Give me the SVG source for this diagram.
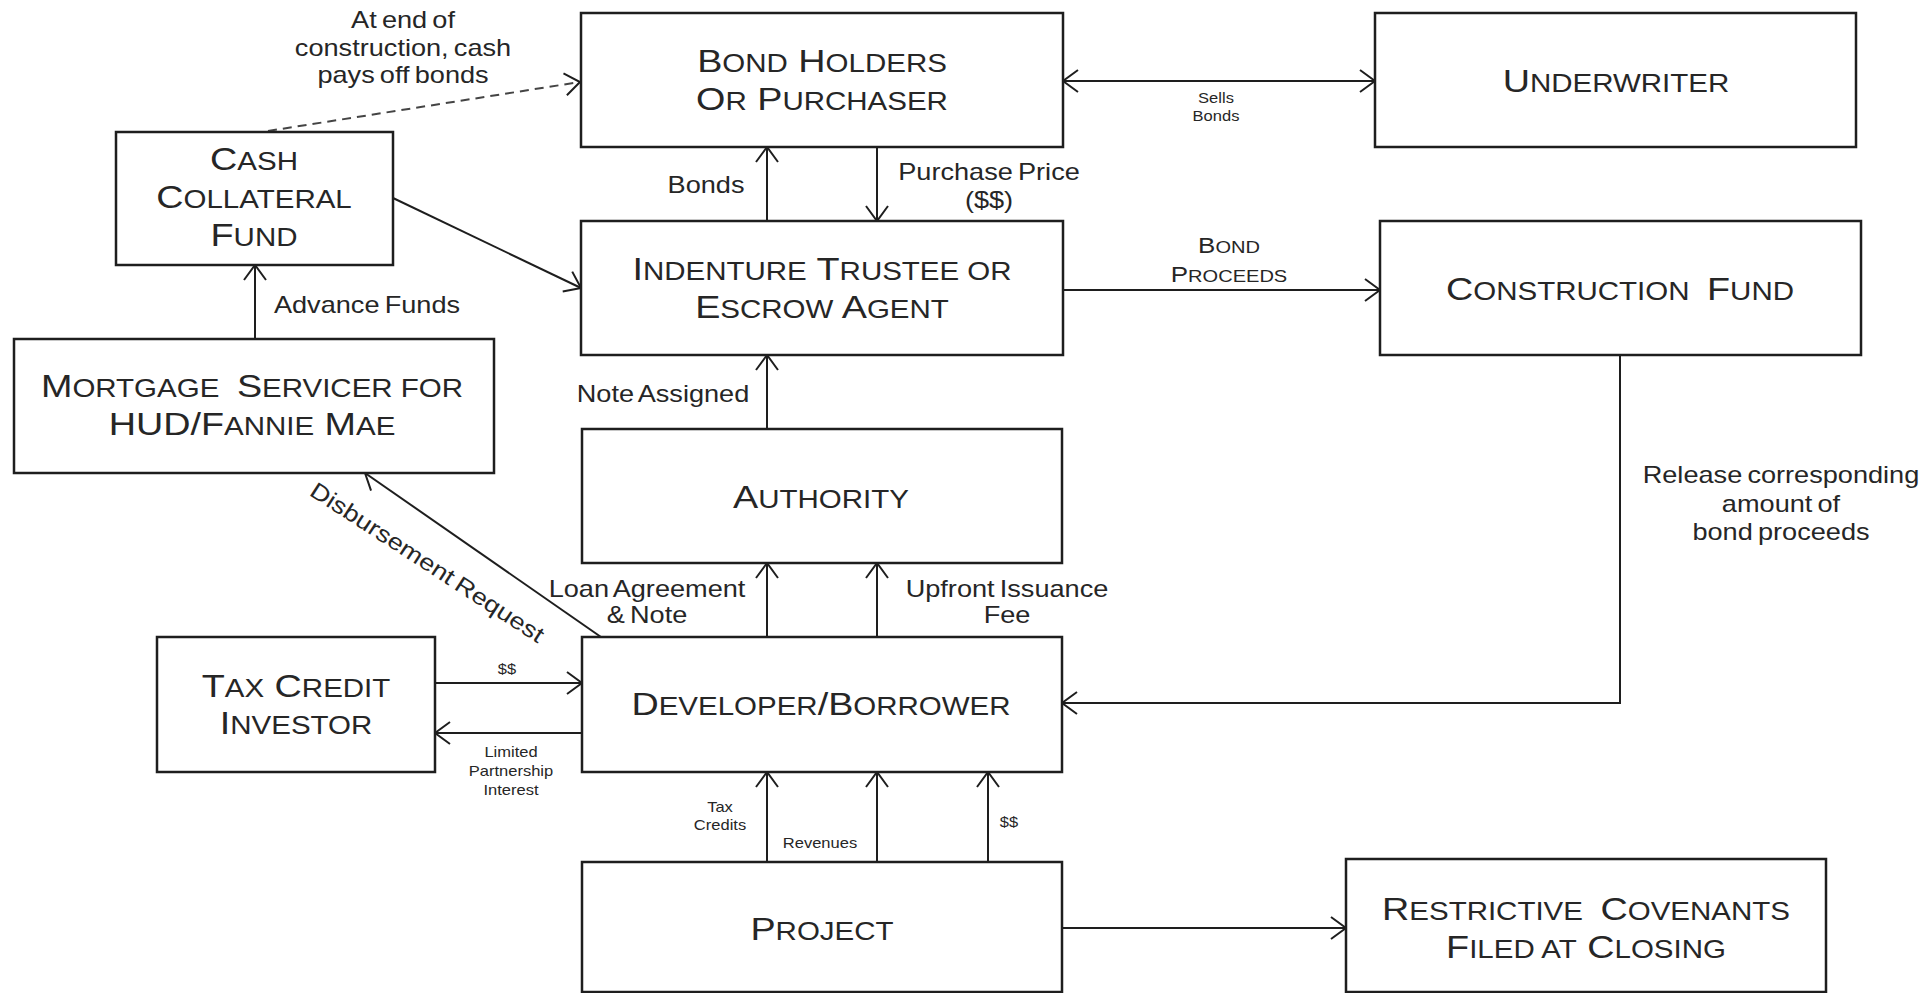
<svg xmlns="http://www.w3.org/2000/svg" width="1931" height="993" viewBox="0 0 1931 993">
<style>
.b{fill:#fff;stroke:#1e1e1e;stroke-width:2.5}
.t{font-family:"Liberation Sans",Arial,sans-serif;fill:#262626;text-anchor:middle}
.n{font-size:32px}
.s{font-size:25px}
.l{font-size:23px;word-spacing:-2px}
.x{font-size:14px}
.bp{font-size:22px}
.bs{font-size:17px}
.c{fill:none;stroke:#1e1e1e;stroke-width:2}
.d{stroke-dasharray:9 6;stroke:#444}
</style>
<defs>
<marker id="a" viewBox="-17 -13 19 26" markerWidth="19" markerHeight="26" refX="0" refY="0" orient="auto" markerUnits="userSpaceOnUse">
<path d="M-15,-11 L0,0 L-15,11" fill="none" stroke="#1e1e1e" stroke-width="2"/>
</marker>
<marker id="a2" viewBox="-17 -13 19 26" markerWidth="19" markerHeight="26" refX="0" refY="0" orient="auto-start-reverse" markerUnits="userSpaceOnUse">
<path d="M-15,-11 L0,0 L-15,11" fill="none" stroke="#1e1e1e" stroke-width="2"/>
</marker>
</defs>
<rect width="1931" height="993" fill="#fff"/>

<g id="connectors">
<line class="c d" x1="268" y1="131" x2="580" y2="82" marker-end="url(#a)"/>
<line class="c" x1="1063" y1="81" x2="1375" y2="81" marker-start="url(#a2)" marker-end="url(#a2)"/>
<line class="c" x1="767" y1="221" x2="767" y2="147" marker-end="url(#a)"/>
<line class="c" x1="877" y1="147" x2="877" y2="221" marker-end="url(#a)"/>
<line class="c" x1="393" y1="198" x2="581" y2="288" marker-end="url(#a)"/>
<line class="c" x1="255" y1="339" x2="255" y2="265" marker-end="url(#a)"/>
<line class="c" x1="1063" y1="290" x2="1380" y2="290" marker-end="url(#a)"/>
<line class="c" x1="767" y1="429" x2="767" y2="355" marker-end="url(#a)"/>
<polyline class="c" points="1620,355 1620,703 1062,703" marker-end="url(#a)"/>
<line class="c" x1="601" y1="637" x2="365" y2="473" marker-end="url(#a)"/>
<line class="c" x1="767" y1="637" x2="767" y2="563" marker-end="url(#a)"/>
<line class="c" x1="877" y1="637" x2="877" y2="563" marker-end="url(#a)"/>
<line class="c" x1="435" y1="683" x2="582" y2="683" marker-end="url(#a)"/>
<line class="c" x1="582" y1="733" x2="435" y2="733" marker-end="url(#a)"/>
<line class="c" x1="767" y1="862" x2="767" y2="772" marker-end="url(#a)"/>
<line class="c" x1="877" y1="862" x2="877" y2="772" marker-end="url(#a)"/>
<line class="c" x1="988" y1="862" x2="988" y2="772" marker-end="url(#a)"/>
<line class="c" x1="1062" y1="928" x2="1346" y2="928" marker-end="url(#a)"/>

<text class="t l" transform="matrix(1.18 0 0 1 403 28)"><tspan x="0" y="0">At end of</tspan><tspan x="0" y="28">construction, cash</tspan><tspan x="0" y="55">pays off bonds</tspan></text>
<text class="t x" transform="matrix(1.18 0 0 1 1216 103)"><tspan x="0" y="0">Sells</tspan><tspan x="0" y="18">Bonds</tspan></text>
<text class="t l" transform="matrix(1.18 0 0 1 706 193)">Bonds</text>
<text class="t l" transform="matrix(1.18 0 0 1 989 180)"><tspan x="0" y="0">Purchase Price</tspan><tspan x="0" y="28">($$)</tspan></text>
<text class="t bp" transform="matrix(1.18 0 0 1 1229 253)"><tspan x="0" y="0">B<tspan class="bs">OND</tspan></tspan><tspan x="0" y="29">P<tspan class="bs">ROCEEDS</tspan></tspan></text>
<text class="t l" transform="matrix(1.18 0 0 1 367 313)">Advance Funds</text>
<text class="t l" transform="matrix(1.18 0 0 1 663 402)">Note Assigned</text>
<text class="t l" transform="matrix(1.18 0 0 1 1781 483)"><tspan x="0" y="0">Release corresponding</tspan><tspan x="0" y="29">amount of</tspan><tspan x="0" y="57">bond proceeds</tspan></text>
<text class="t l" transform="translate(423 569) rotate(33) scale(1.18 1)">Disbursement Request</text>
<text class="t l" transform="matrix(1.18 0 0 1 647 597)"><tspan x="0" y="0">Loan Agreement</tspan><tspan x="0" y="26">&amp; Note</tspan></text>
<text class="t l" transform="matrix(1.18 0 0 1 1007 597)"><tspan x="0" y="0">Upfront Issuance</tspan><tspan x="0" y="26">Fee</tspan></text>
<text class="t x" transform="matrix(1.18 0 0 1 507 674)">$$</text>
<text class="t x" transform="matrix(1.18 0 0 1 511 757)"><tspan x="0" y="0">Limited</tspan><tspan x="0" y="19">Partnership</tspan><tspan x="0" y="38">Interest</tspan></text>
<text class="t x" transform="matrix(1.18 0 0 1 720 812)"><tspan x="0" y="0">Tax</tspan><tspan x="0" y="18">Credits</tspan></text>
<text class="t x" transform="matrix(1.18 0 0 1 820 848)">Revenues</text>
<text class="t x" transform="matrix(1.18 0 0 1 1009 827)">$$</text>
</g>

<g id="bond-holders">
<rect class="b" x="581" y="13" width="482" height="134"/>
<text class="t n" transform="matrix(1.18 0 0 1 822 72)"><tspan x="0" y="0">B<tspan class="s">OND</tspan> H<tspan class="s">OLDERS</tspan></tspan><tspan x="0" y="38">O<tspan class="s">R</tspan> P<tspan class="s">URCHASER</tspan></tspan></text>
</g>

<g id="underwriter">
<rect class="b" x="1375" y="13" width="481" height="134"/>
<text class="t n" transform="matrix(1.18 0 0 1 1616 92)">U<tspan class="s">NDERWRITER</tspan></text>
</g>

<g id="cash-collateral-fund">
<rect class="b" x="116" y="132" width="277" height="133"/>
<text class="t n" transform="matrix(1.18 0 0 1 254 170)"><tspan x="0" y="0">C<tspan class="s">ASH</tspan></tspan><tspan x="0" y="38">C<tspan class="s">OLLATERAL</tspan></tspan><tspan x="0" y="76">F<tspan class="s">UND</tspan></tspan></text>
</g>

<g id="indenture-trustee">
<rect class="b" x="581" y="221" width="482" height="134"/>
<text class="t n" transform="matrix(1.18 0 0 1 822 280)"><tspan x="0" y="0">I<tspan class="s">NDENTURE</tspan> T<tspan class="s">RUSTEE OR</tspan></tspan><tspan x="0" y="38">E<tspan class="s">SCROW</tspan> A<tspan class="s">GENT</tspan></tspan></text>
</g>

<g id="construction-fund">
<rect class="b" x="1380" y="221" width="481" height="134"/>
<text class="t n" transform="matrix(1.18 0 0 1 1620 300)">C<tspan class="s">ONSTRUCTION</tspan> <tspan dx="6">F</tspan><tspan class="s">UND</tspan></text>
</g>

<g id="mortgage-servicer">
<rect class="b" x="14" y="339" width="480" height="134"/>
<text class="t n" transform="matrix(1.18 0 0 1 252 397)"><tspan x="0" y="0">M<tspan class="s">ORTGAGE</tspan> <tspan dx="6">S</tspan><tspan class="s">ERVICER FOR</tspan></tspan><tspan x="0" y="38">HUD/F<tspan class="s">ANNIE</tspan> M<tspan class="s">AE</tspan></tspan></text>
</g>

<g id="authority">
<rect class="b" x="582" y="429" width="480" height="134"/>
<text class="t n" transform="matrix(1.18 0 0 1 821 508)">A<tspan class="s">UTHORITY</tspan></text>
</g>

<g id="tax-credit-investor">
<rect class="b" x="157" y="637" width="278" height="135"/>
<text class="t n" transform="matrix(1.18 0 0 1 296 697)"><tspan x="0" y="0">T<tspan class="s">AX</tspan> C<tspan class="s">REDIT</tspan></tspan><tspan x="0" y="37">I<tspan class="s">NVESTOR</tspan></tspan></text>
</g>

<g id="developer-borrower">
<rect class="b" x="582" y="637" width="480" height="135"/>
<text class="t n" transform="matrix(1.18 0 0 1 821 715)">D<tspan class="s">EVELOPER</tspan>/B<tspan class="s">ORROWER</tspan></text>
</g>

<g id="project">
<rect class="b" x="582" y="862" width="480" height="130"/>
<text class="t n" transform="matrix(1.18 0 0 1 822 940)">P<tspan class="s">ROJECT</tspan></text>
</g>

<g id="restrictive-covenants">
<rect class="b" x="1346" y="859" width="480" height="133"/>
<text class="t n" transform="matrix(1.18 0 0 1 1586 920)"><tspan x="0" y="0">R<tspan class="s">ESTRICTIVE</tspan> <tspan dx="6">C</tspan><tspan class="s">OVENANTS</tspan></tspan><tspan x="0" y="38">F<tspan class="s">ILED AT</tspan> C<tspan class="s">LOSING</tspan></tspan></text>
</g>
</svg>
